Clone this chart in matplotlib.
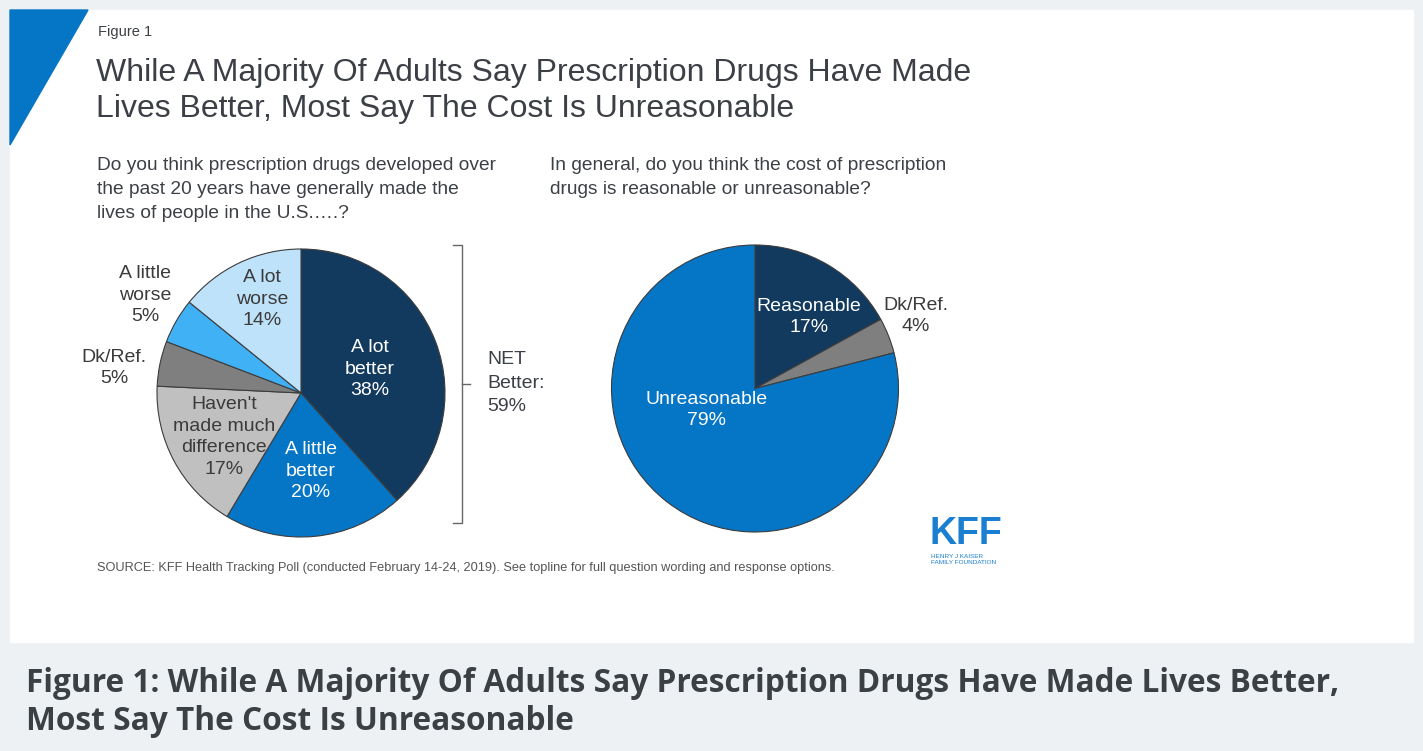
import matplotlib
matplotlib.use("Agg")
import matplotlib.pyplot as plt
from matplotlib import font_manager
from matplotlib.patches import Polygon, Rectangle

W, H = 1423, 751

# Do you think new prescription drugs have made lives better or worse?
effect_labels = ["A lot\nbetter", "A little\nbetter", "Haven't\nmade much\ndifference",
                 "Dk/Ref.", "A little\nworse", "A lot\nworse"]
effect_values = [38, 20, 17, 5, 5, 14]
net_better = 59

# Is the cost of prescription drugs reasonable?
cost_labels = ["Reasonable", "Dk/Ref.", "Unreasonable"]
cost_values = [17, 4, 79]

effect_colors = ["#123a5e", "#0575c6", "#c0c0c0", "#7f7f7f", "#41b1f5", "#bfe2fb"]
cost_colors = ["#123a5e", "#7f7f7f", "#0575c6"]

# label anchors (pixels) and text colours
effect_pos = [(370, 369), (311, 471), (224, 437), (114, 368), (145, 295), (262, 299)]
effect_tc = ["white", "white", "#3b3b3b", "#3b3b3b", "#3b3b3b", "#3b3b3b"]
cost_pos = [(809, 317), (916, 316), (707, 410)]
cost_tc = ["white", "#3b3b3b", "white"]

names = {f.name for f in font_manager.fontManager.ttflist}
sans = "Liberation Sans" if "Liberation Sans" in names else "DejaVu Sans"
cap_font = "Open Sans" if "Open Sans" in names else "DejaVu Sans"
plt.rcParams["font.family"] = [sans, "DejaVu Sans"]

TXT = "#3c4046"
fig = plt.figure(figsize=(W / 100, H / 100), dpi=100)

# page background, card and caption band
bg = fig.add_axes([0, 0, 1, 1], zorder=0)
bg.set_xlim(0, W)
bg.set_ylim(H, 0)
bg.axis("off")
bg.add_patch(Rectangle((0, 0), W, H, color="#eef1f4"))
bg.add_patch(Rectangle((10, 10), W - 20, 632, color="white"))
bg.add_patch(Polygon([(10, 10), (88, 10), (10, 145)], color="#0575c6"))


def pie_axes(cx, cy, r, pad=1.02):
    ax = fig.add_axes([(cx - r * pad) / W, 1 - (cy + r * pad) / H,
                       2 * r * pad / W, 2 * r * pad / H], zorder=1)
    return ax


wp = dict(edgecolor="#3c3c3c", linewidth=0.8)
axl = pie_axes(301, 393, 144)
axl.pie(effect_values, colors=effect_colors, startangle=90, counterclock=False, wedgeprops=wp)
axl.set_xlim(-1.02, 1.02)
axl.set_ylim(-1.02, 1.02)

axr = pie_axes(755, 388.5, 143.5)
axr.pie(cost_values, colors=cost_colors, startangle=90, counterclock=False, wedgeprops=wp)
axr.set_xlim(-1.02, 1.02)
axr.set_ylim(-1.02, 1.02)

# text layer on top
tx = fig.add_axes([0, 0, 1, 1], zorder=2)
tx.set_xlim(0, W)
tx.set_ylim(H, 0)
tx.axis("off")

tx.text(98, 32, "Figure 1", fontsize=10.5, color=TXT, va="center")
for i, line in enumerate(["While A Majority Of Adults Say Prescription Drugs Have Made",
                          "Lives Better, Most Say The Cost Is Unreasonable"]):
    tx.text(96, 73 + 36 * i, line, fontsize=23, color=TXT, va="center")

for i, line in enumerate(["Do you think prescription drugs developed over",
                          "the past 20 years have generally made the",
                          "lives of people in the U.S.\u2026.?"]):
    tx.text(97, 165 + 24 * i, line, fontsize=13.8, color=TXT, va="center")
for i, line in enumerate(["In general, do you think the cost of prescription",
                          "drugs is reasonable or unreasonable?"]):
    tx.text(550, 165 + 24 * i, line, fontsize=13.8, color=TXT, va="center")

for lab, v, (x, y), c in zip(effect_labels, effect_values, effect_pos, effect_tc):
    tx.text(x, y, f"{lab}\n{v}%", fontsize=14, color=c, ha="center", va="center",
            multialignment="center", linespacing=1.38)
for lab, v, (x, y), c in zip(cost_labels, cost_values, cost_pos, cost_tc):
    tx.text(x, y, f"{lab}\n{v}%", fontsize=14, color=c, ha="center", va="center",
            multialignment="center", linespacing=1.38)

# bracket for the net better share
bc = "#666666"
tx.plot([453, 462, 462, 453], [245, 245, 523, 523], color=bc, lw=1)
tx.plot([462, 470], [384, 384], color=bc, lw=1)
tx.text(487, 383, f"NET\nBetter:\n{net_better}%", fontsize=14, color=TXT, va="center",
        ha="left", linespacing=1.5)

tx.text(97, 568, "SOURCE: KFF Health Tracking Poll (conducted February 14-24, 2019). "
        "See topline for full question wording and response options.",
        fontsize=9.2, color="#555555", va="center")

# KFF wordmark
tx.text(929, 534, "KFF", fontsize=27, fontweight="bold", color="#1a7fd1", va="center")
tx.text(931, 556, "HENRY J KAISER", fontsize=4.6, color="#1a7fd1", va="center")
tx.text(931, 563, "FAMILY FOUNDATION", fontsize=4.6, color="#1a7fd1", va="center")

# caption under the card
for i, line in enumerate(["Figure 1: While A Majority Of Adults Say Prescription Drugs Have Made Lives Better,",
                          "Most Say The Cost Is Unreasonable"]):
    tx.text(26, 683 + 38 * i, line, fontsize=22.8, fontweight="bold", family=cap_font,
            color="#3b4045", va="center")

fig.savefig("out.png", dpi=100)
